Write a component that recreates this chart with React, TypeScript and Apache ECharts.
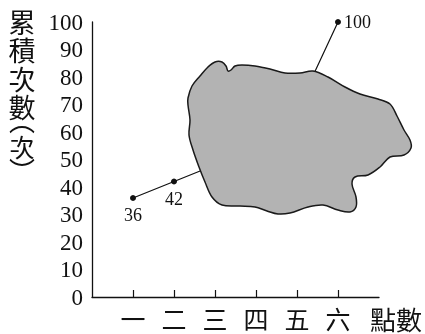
import React, { useEffect, useRef } from "react";
import * as echarts from "echarts";

const categories = ["一", "二", "三", "四", "五", "六"];
const xPositions = [1, 2, 3, 4, 5, 6];
const cumulative = [36, 42, 48, 58, 68, 100];
const labeled = [true, true, false, false, false, true];
const yTicks = [0, 10, 20, 30, 40, 50, 60, 70, 80, 90, 100];
const yNameChars = ["累", "積", "次", "數"];

// Gray occluding blob outline (pixel space annotation)
const blob: number[][] = [
  [188, 98], [192, 86], [200, 76], [208, 67], [215, 62], [222, 62], [226, 66], [228, 71],
  [231, 70], [235, 66], [242, 65], [255, 66], [270, 69], [285, 73], [300, 73], [313, 71],
  [328, 77], [345, 87], [360, 94], [378, 99], [390, 104], [397, 116], [404, 130], [410, 140],
  [411, 148], [404, 155], [390, 157], [380, 167], [368, 175], [355, 177], [352, 184], [356, 197],
  [356, 207], [350, 212], [338, 210], [323, 205], [308, 207], [290, 213], [278, 214], [267, 211],
  [255, 207], [240, 206], [222, 205], [212, 197], [205, 182], [199, 167], [193, 150], [189, 135],
  [190, 120], [188, 105],
];

const SERIF = "'Liberation Serif', 'DejaVu Serif', serif";
const CJK = "'Noto Sans CJK TC', 'Noto Sans CJK SC', sans-serif";

export default function App() {
  const ref = useRef<HTMLDivElement>(null);
  useEffect(() => {
    if (!ref.current) return;
    const chart = echarts.init(ref.current, undefined, { renderer: "svg" });
    const yNameGraphics: any[] = yNameChars.map((c, i) => ({
      type: "text",
      x: 22,
      y: 21 + i * 28.5,
      style: { text: c, font: `27px ${CJK}`, fill: "#111", align: "center", verticalAlign: "middle" },
    }));
    yNameGraphics.push(
      {
        type: "text", x: 22, y: 119,
        style: { text: "︵", font: `26px ${CJK}`, fill: "#111", align: "center", verticalAlign: "middle" },
      },
      {
        type: "text", x: 22, y: 146,
        style: { text: "次", font: `25px ${CJK}`, fill: "#111", align: "center", verticalAlign: "middle" },
      },
      {
        type: "text", x: 22, y: 169,
        style: { text: "︶", font: `26px ${CJK}`, fill: "#111", align: "center", verticalAlign: "middle" },
      }
    );
    chart.setOption({
      animation: false,
      grid: { left: 92, right: 46, top: 22, bottom: 37 },
      xAxis: {
        type: "value",
        min: 0,
        max: 7,
        interval: 1,
        splitLine: { show: false },
        axisLine: { show: true, lineStyle: { color: "#111", width: 1.3 } },
        axisTick: {
          show: true,
          inside: true,
          length: 7,
          customValues: xPositions,
          lineStyle: { color: "#111", width: 1.2 },
        },
        axisLabel: {
          customValues: xPositions,
          margin: 8,
          fontSize: 25,
          fontFamily: CJK,
          color: "#111",
          formatter: (v: number) => categories[v - 1] ?? "",
        },
      },
      yAxis: {
        type: "value",
        min: 0,
        max: 100,
        interval: 10,
        splitLine: { show: false },
        axisLine: { show: true, lineStyle: { color: "#111", width: 1.3 } },
        axisTick: { show: false },
        axisLabel: {
          margin: 9,
          fontSize: 23,
          fontFamily: SERIF,
          color: "#111",
          formatter: (v: number) => (yTicks.includes(v) ? String(v) : ""),
        },
      },
      series: [
        {
          type: "line",
          data: xPositions.map((x, i) => ({
            value: [x, cumulative[i]],
            label: labeled[i]
              ? {
                  show: true,
                  position: i === 5 ? "right" : "bottom",
                  distance: i === 5 ? 3 : 5,
                  formatter: String(cumulative[i]),
                  fontSize: 18,
                  fontFamily: SERIF,
                  color: "#111",
                }
              : { show: false },
          })),
          symbol: "circle",
          symbolSize: 6,
          itemStyle: { color: "#111" },
          lineStyle: { color: "#111", width: 1.2 },
          z: 2,
        },
      ],
      graphic: [
        {
          type: "polygon",
          z: 50,
          shape: { points: blob, smooth: 0.35 },
          style: { fill: "#b3b3b3", stroke: "#1a1a1a", lineWidth: 1.5 },
        },
        ...yNameGraphics,
        {
          type: "text",
          x: 396,
          y: 318,
          z: 50,
          style: { text: "點數", font: `26px ${CJK}`, fill: "#111", align: "center", verticalAlign: "middle" },
        },
      ],
    });
    return () => chart.dispose();
  }, []);
  return (
    <div
      ref={ref}
      style={{ position: "fixed", left: 0, top: 0, width: 425, height: 334 }}
    />
  );
}
